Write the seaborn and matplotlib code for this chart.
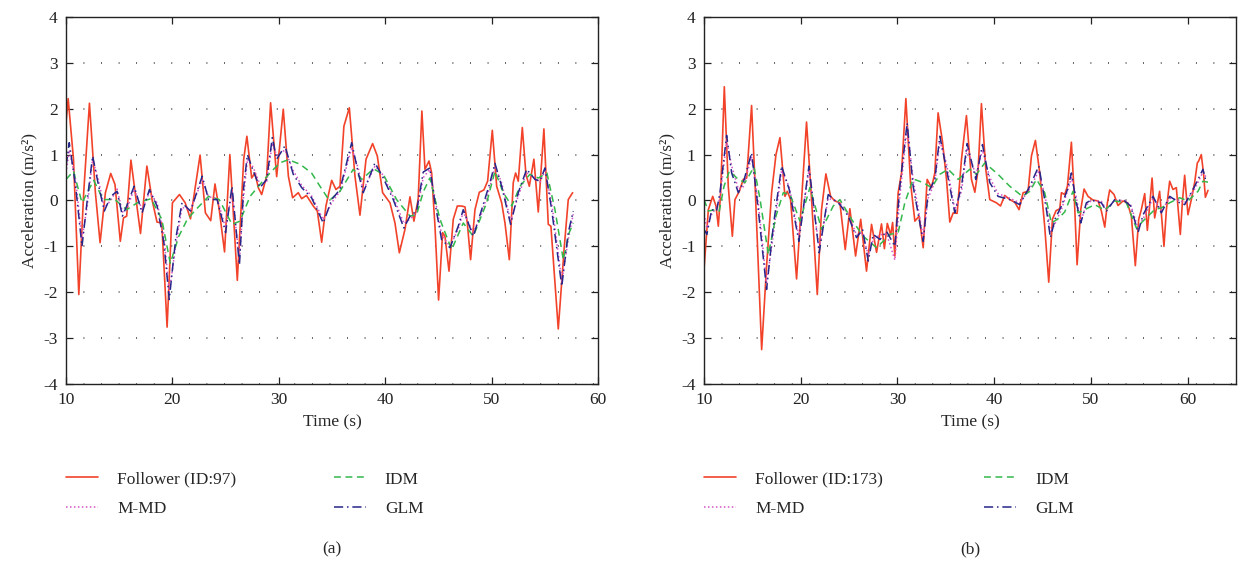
import matplotlib
matplotlib.use("Agg")
import matplotlib.pyplot as plt
import seaborn as sns

# ---- panel (a): follower ID 97 ----
t_fol_a = [10.0, 10.2, 10.7, 11.2, 11.66, 12.2, 12.76, 13.2, 13.7, 14.2,
           14.6, 15.1, 15.4, 15.7, 16.1, 17.0, 17.6, 18.1, 18.55, 19.0,
           19.5, 20.0, 20.66, 21.2, 21.7, 22.6, 23.1, 23.6, 24.0, 24.4,
           24.9, 25.4, 26.1, 26.7, 27.0, 27.45, 27.76, 28.07, 28.39, 28.86,
           29.23, 29.8, 30.42, 30.9, 31.3, 31.83, 32.15, 32.6, 33.24, 33.62,
           34.03, 34.43, 34.97, 35.37, 35.75, 36.12, 36.63, 37.16, 37.63, 38.2,
           38.82, 39.26, 39.76, 40.45, 40.92, 41.33, 41.86, 42.33, 42.7, 43.1,
           43.45, 43.74, 44.12, 44.37, 44.68, 45.02, 45.4, 45.62, 46.0, 46.4,
           46.78, 47.19, 47.5, 47.72, 48.03, 48.44, 48.85, 49.28, 49.63, 50.07,
           50.48, 50.95, 51.26, 51.67, 52.04, 52.26, 52.51, 52.89, 53.23, 53.55,
           53.98, 54.39, 54.92, 55.33, 55.58, 56.27, 56.84, 57.21, 57.62]
a_fol_a = [1.7, 2.22, 0.9, -2.05, 0.17, 2.12, 0.17, -0.92, 0.17, 0.59,
           0.35, -0.89, -0.38, -0.34, 0.88, -0.72, 0.75, 0.0, -0.47, -0.49,
           -2.76, -0.05, 0.13, -0.05, -0.4, 0.99, -0.27, -0.44, 0.36, -0.2,
           -1.12, 1.0, -1.74, 0.9, 1.4, 0.49, 0.6, 0.28, 0.13, 0.53,
           2.13, 0.52, 1.99, 0.53, 0.06, 0.17, 0.04, 0.11, -0.12, -0.23,
           -0.91, -0.12, 0.44, 0.24, 0.31, 1.62, 2.02, 0.53, -0.32, 0.9,
           1.24, 0.97, 0.17, -0.05, -0.49, -1.14, -0.63, 0.08, -0.45, 0.02,
           1.95, 0.68, 0.86, 0.6, -0.56, -2.17, -0.7, -0.78, -1.54, -0.41,
           -0.12, -0.12, -0.14, -0.49, -1.29, -0.2, 0.18, 0.23, 0.42, 1.53,
           0.31, -0.05, -0.49, -1.29, 0.39, 0.6, 0.42, 1.59, 0.57, 0.31,
           0.9, -0.25, 1.56, -0.52, -0.56, -2.8, -1.0, 0.02, 0.17]

t_idm_a = [10.0, 10.7, 11.5, 12.6, 13.5, 14.6, 15.7, 16.7, 18.0, 19.0,
           19.8, 20.6, 21.4, 22.2, 23.4, 24.4, 25.6, 26.35, 27.3, 28.23,
           29.17, 30.1, 30.9, 32.0, 33.08, 33.87, 34.75, 35.75, 37.0, 37.8,
           38.9, 39.82, 41.07, 42.33, 42.95, 43.6, 44.2, 45.15, 46.25, 47.34,
           48.28, 49.54, 50.32, 51.1, 51.9, 52.67, 53.6, 54.4, 55.2, 55.96,
           56.74, 57.3, 57.68]
a_idm_a = [0.46, 0.64, -0.05, 0.44, 0.02, 0.02, -0.2, -0.05, 0.04, -0.41,
           -1.37, -0.78, -0.41, -0.2, 0.09, 0.02, -0.52, -0.45, 0.09, 0.35,
           0.6, 0.82, 0.89, 0.79, 0.6, 0.31, 0.0, 0.2, 0.68, 0.46,
           0.69, 0.57, 0.02, -0.34, -0.31, 0.2, 0.49, -0.41, -1.07, -0.49,
           -0.78, -0.05, 0.64, 0.17, -0.12, 0.31, 0.57, 0.49, 0.6, -0.2,
           -1.29, -0.7, -0.49]

t_mod_a = [10.0, 10.3, 10.9, 11.5, 12.0, 12.5, 13.07, 13.6, 14.2, 14.8,
           15.3, 15.7, 16.4, 17.15, 17.84, 18.56, 19.2, 19.7, 20.3, 20.9,
           21.7, 22.8, 23.4, 24.2, 25.0, 25.6, 26.3, 26.7, 27.05, 27.6,
           28.23, 28.86, 29.39, 29.8, 30.58, 31.36, 32.15, 33.08, 34.18, 34.97,
           35.75, 36.85, 37.47, 37.94, 39.04, 39.82, 40.76, 41.76, 42.33, 42.95,
           43.58, 44.2, 44.68, 45.3, 46.09, 46.87, 47.34, 48.28, 49.07, 49.85,
           50.32, 50.95, 51.79, 52.51, 53.3, 54.08, 54.55, 55.02, 55.65, 56.6,
           57.21, 57.68]
a_glm_a = [0.75, 1.26, 0.31, -1.0, 0.02, 0.97, 0.31, -0.23, 0.09, 0.2,
           -0.34, -0.12, 0.31, -0.27, 0.24, -0.12, -0.92, -2.16, -0.85, -0.05,
           -0.23, 0.53, 0.02, 0.02, -0.7, 0.31, -1.4, 0.3, 1.0, 0.64,
           0.28, 0.46, 1.37, 0.9, 1.19, 0.57, 0.28, 0.06, -0.49, 0.02,
           0.24, 1.26, 0.6, 0.17, 0.82, 0.49, 0.02, -0.6, -0.34, -0.23,
           0.62, 0.71, -0.05, -0.85, -1.03, -0.56, -0.2, -0.78, -0.2, 0.39,
           0.81, 0.31, -0.52, 0.17, 0.68, 0.46, 0.42, 0.71, -0.2, -1.87,
           -0.7, -0.23]
a_mmd_a = [0.6, 1.1, 0.45, -0.85, -0.1, 0.9, 0.42, -0.15, 0.0, 0.25,
           -0.25, -0.2, 0.25, -0.2, 0.18, -0.05, -0.75, -2.0, -1.0, -0.15,
           -0.2, 0.45, 0.08, 0.05, -0.6, 0.2, -1.3, 0.1, 0.9, 0.72,
           0.35, 0.4, 1.25, 0.98, 1.1, 0.65, 0.33, 0.1, -0.42, -0.05,
           0.2, 1.15, 0.7, 0.22, 0.75, 0.55, 0.08, -0.5, -0.4, -0.28,
           0.5, 0.68, 0.05, -0.75, -1.0, -0.62, -0.25, -0.7, -0.28, 0.3,
           0.75, 0.38, -0.45, 0.1, 0.6, 0.5, 0.4, 0.65, -0.05, -1.75,
           -0.85, -0.3]

# ---- panel (b): follower ID 173 ----
t_fol_b = [10.0, 10.45, 10.9, 11.24, 11.48, 11.72, 12.1, 12.51, 12.93, 13.2,
           13.65, 14.06, 14.41, 14.92, 15.27, 15.96, 16.47, 16.99, 17.44, 17.85,
           18.37, 18.61, 18.95, 19.57, 20.6, 21.12, 21.71, 22.15, 22.6, 23.09,
           23.53, 24.05, 24.6, 25.08, 25.67, 26.2, 26.8, 27.32, 27.84, 28.35,
           28.65, 28.95, 29.3, 29.5, 29.73, 30.07, 30.42, 30.87, 31.35, 31.8,
           32.24, 32.66, 33.07, 33.52, 33.86, 34.2, 34.65, 35.07, 35.41, 35.76,
           36.17, 36.62, 37.13, 37.65, 38.0, 38.34, 38.68, 39.13, 39.54, 40.23,
           40.65, 41.09, 41.61, 42.13, 42.57, 42.99, 43.5, 43.85, 44.26, 44.71,
           45.22, 45.64, 46.02, 46.4, 46.78, 46.95, 47.29, 47.57, 47.98, 48.26,
           48.57, 48.95, 49.29, 49.7, 50.22, 50.74, 51.08, 51.43, 51.7, 51.94,
           52.39, 52.8, 53.32, 53.77, 54.18, 54.59, 54.94, 55.21, 55.56, 55.83,
           56.07, 56.32, 56.59, 57.1, 57.55, 57.8, 58.14, 58.48, 58.83, 59.24,
           59.45, 59.69, 60.03, 60.38, 60.72, 61.0, 61.14, 61.41, 61.65, 61.83,
           62.1]
a_fol_b = [-1.5, -0.2, 0.09, -0.12, -0.56, 0.17, 2.48, 0.31, -0.78, 0.02,
           0.2, 0.46, 0.49, 2.07, 0.39, -3.25, -1.43, 0.17, 1.0, 1.37,
           0.09, 0.2, 0.02, -1.71, 1.71, 0.02, -2.05, -0.2, 0.58, 0.09,
           -0.01, -0.05, -1.07, -0.18, -1.21, -0.41, -1.54, -0.52, -1.13, -0.51,
           -1.05, -0.5, -0.75, -0.48, -1.21, 0.17, 0.6, 2.22, 0.39, -0.45,
           -0.34, -1.03, 0.46, 0.28, 0.6, 1.91, 1.29, 0.46, -0.47, -0.27,
           -0.28, 0.9, 1.85, 0.46, 0.18, 0.68, 2.11, 0.68, 0.02, -0.05,
           -0.12, 0.11, 0.02, -0.04, -0.2, 0.17, 0.2, 0.97, 1.31, 0.6,
           -0.56, -1.78, -0.41, -0.22, -0.18, 0.17, 0.13, 0.31, 1.27, 0.17,
           -1.4, -0.2, 0.25, 0.09, 0.01, -0.01, -0.23, -0.58, -0.05, 0.23,
           0.13, -0.11, -0.01, -0.05, -0.34, -1.42, -0.41, -0.2, 0.15, -0.65,
           -0.12, 0.49, -0.38, 0.2, -1.0, -0.2, 0.42, 0.24, 0.28, -0.74,
           -0.05, 0.55, -0.31, 0.02, 0.39, 0.82, 0.86, 1.0, 0.57, 0.07,
           0.22]

t_idm_b = [10.0, 10.45, 11.14, 11.58, 12.07, 12.62, 13.55, 14.24, 15.17, 15.8,
           16.65, 17.44, 18.2, 18.9, 19.92, 20.95, 22.16, 23.36, 24.05, 25.25,
           26.46, 27.84, 28.7, 29.21, 30.07, 30.76, 31.62, 32.66, 33.52, 34.38,
           35.24, 36.27, 37.48, 38.17, 39.03, 40.4, 41.61, 42.92, 43.68, 44.37,
           45.22, 45.91, 46.6, 47.29, 48.15, 48.67, 49.36, 50.39, 51.43, 52.46,
           53.66, 54.7, 55.56, 56.59, 57.28, 58.14, 59.17, 60.03, 61.07, 61.58,
           62.1]
a_idm_b = [0.02, -0.23, -0.2, -0.23, 0.31, 0.64, 0.46, 0.39, 0.73, 0.02,
           -1.18, -0.34, 0.17, 0.13, -0.45, 0.28, -0.63, -0.12, 0.02, -0.41,
           -0.78, -1.03, -0.85, -0.74, -0.7, -0.05, 0.47, 0.39, 0.28, 0.57,
           0.68, 0.46, 0.68, 0.57, 0.82, 0.57, 0.31, 0.09, 0.2, 0.46,
           0.17, -0.49, -0.4, -0.25, 0.2, -0.27, -0.2, -0.09, -0.21, -0.01,
           -0.05, -0.6, -0.41, -0.2, -0.16, -0.05, 0.06, -0.01, 0.2, 0.42,
           0.4]

t_mod_b = [10.0, 10.3, 10.79, 11.3, 11.65, 12.34, 12.86, 13.55, 14.06, 14.92,
           15.61, 16.47, 17.16, 18.02, 18.81, 19.81, 20.85, 21.91, 22.84, 24.05,
           24.91, 25.77, 26.39, 26.98, 27.49, 28.2, 28.87, 29.73, 30.25, 31.0,
           31.62, 32.66, 33.17, 33.86, 34.38, 35.07, 35.93, 36.62, 37.2, 38.1,
           38.79, 39.54, 40.4, 41.61, 42.64, 43.68, 44.61, 45.4, 45.81, 46.3,
           46.95, 47.57, 47.98, 48.5, 48.95, 49.53, 50.05, 51.08, 51.6, 52.46,
           53.49, 54.11, 54.87, 55.39, 56.42, 57.28, 58.14, 59.17, 59.69, 60.72,
           61.58, 61.93]
a_glm_b = [-0.63, -0.74, -0.2, -0.23, 0.17, 1.42, 0.6, 0.17, 0.39, 1.04,
           -0.2, -1.94, -0.56, 0.75, 0.24, -0.89, 0.75, -1.14, 0.13, -0.09,
           -0.34, -0.81, -0.63, -1.32, -0.74, -0.85, -0.67, -1.0, 0.31, 1.69,
           0.31, -0.89, 0.17, 0.46, 1.4, 0.68, -0.27, 0.31, 1.24, 0.46,
           1.22, 0.39, 0.09, 0.02, -0.09, 0.31, 0.75, -0.2, -0.81, -0.4,
           -0.12, 0.24, 0.6, -0.05, -0.49, -0.05, 0.01, -0.05, -0.23, 0.02,
           -0.01, -0.12, -0.7, -0.31, 0.09, -0.27, 0.09, -0.05, -0.09, 0.31,
           0.68, 0.39]
a_mmd_b = [-0.3, -0.6, -0.3, -0.15, 0.05, 1.3, 0.75, 0.25, 0.3, 0.95,
           -0.05, -1.8, -0.75, 0.65, 0.3, -0.8, 0.65, -1.05, 0.05, -0.05,
           -0.3, -0.75, -0.7, -1.2, -0.85, -0.75, -0.72, -1.3, 0.1, 1.6,
           0.45, -0.8, 0.05, 0.4, 1.3, 0.8, -0.2, 0.2, 1.15, 0.55,
           1.1, 0.5, 0.15, 0.05, -0.05, 0.25, 0.65, -0.05, -0.7, -0.5,
           -0.2, 0.2, 0.5, 0.05, -0.45, -0.1, 0.0, -0.02, -0.2, 0.0,
           0.0, -0.1, -0.6, -0.4, 0.05, -0.22, 0.05, 0.0, -0.05, 0.25,
           0.62, 0.5]

follower_ids = ["Follower (ID:97)", "Follower (ID:173)"]
panel_tags = ["(a)", "(b)"]
x_max = [60, 65]
col_gap = [5.6, 5.8]

RED = "#f2432a"
GREEN = "#33b84b"
NAVY = "#27268a"
PINK = "#d653c4"

sns.set_theme(style="ticks")
plt.rcParams["font.family"] = ["Liberation Serif", "DejaVu Serif"]
plt.rcParams["font.size"] = 12
plt.rcParams["axes.unicode_minus"] = False

fig = plt.figure(figsize=(12.39, 5.62), dpi=100)
ax_a = fig.add_axes([0.0533, 0.3167, 0.4293, 0.6531])
ax_b = fig.add_axes([0.5682, 0.3167, 0.4294, 0.6531])

panels = [
    (ax_a, t_fol_a, a_fol_a, t_idm_a, a_idm_a, t_mod_a, a_mmd_a, a_glm_a),
    (ax_b, t_fol_b, a_fol_b, t_idm_b, a_idm_b, t_mod_b, a_mmd_b, a_glm_b),
]

for i, (ax, tf, af, ti, ai, tm, am, ag) in enumerate(panels):
    assert len(tf) == len(af) and len(ti) == len(ai)
    assert len(tm) == len(am) == len(ag)
    ax.yaxis.grid(True, color="black", linestyle=(0, (0.5, 11)), linewidth=1.1)
    ax.set_axisbelow(True)
    sns.lineplot(x=tf, y=af, ax=ax, color=RED, linewidth=1.2,
                 estimator=None, sort=False, label=follower_ids[i])
    sns.lineplot(x=tm, y=am, ax=ax, color=PINK, linewidth=1.1,
                 linestyle=(0, (1, 1.6)), estimator=None, sort=False, label="M-MD")
    sns.lineplot(x=ti, y=ai, ax=ax, color=GREEN, linewidth=1.1,
                 linestyle=(0, (4.5, 3)), estimator=None, sort=False, label="IDM")
    sns.lineplot(x=tm, y=ag, ax=ax, color=NAVY, linewidth=1.1,
                 linestyle=(0, (6, 2.5, 1, 2.5)), estimator=None, sort=False, label="GLM")
    for ln in ax.get_lines():
        ln.set_solid_joinstyle("round")
        ln.set_dash_joinstyle("round")

    ax.set_xlim(10, x_max[i])
    ax.set_ylim(-4, 4)
    ax.set_xticks(range(10, 61, 10))
    ax.set_yticks(range(-4, 5))
    ax.tick_params(direction="in", top=True, right=True, length=5, width=0.9,
                   labelsize=12.5, colors="#222222", pad=6)
    for sp in ax.spines.values():
        sp.set_visible(True)
        sp.set_color("#222222")
        sp.set_linewidth(1.0)
    ax.set_xlabel("Time (s)", fontsize=12.5, labelpad=4)
    ax.set_ylabel("Acceleration (m/s²)", fontsize=12.5, labelpad=4)

    handles, labels = ax.get_legend_handles_labels()
    ax.legend(handles, labels,
              ncol=2, loc="upper left", bbox_to_anchor=(0.0, -0.238),
              frameon=False, fontsize=12.5, handlelength=1.85, handletextpad=1.1,
              columnspacing=col_gap[i], labelspacing=0.75,
              borderpad=0, borderaxespad=0)
    ax.text(0.5, -0.45, panel_tags[i], transform=ax.transAxes,
            ha="center", va="center", fontsize=12.5)

fig.savefig("out.png", dpi=100)
